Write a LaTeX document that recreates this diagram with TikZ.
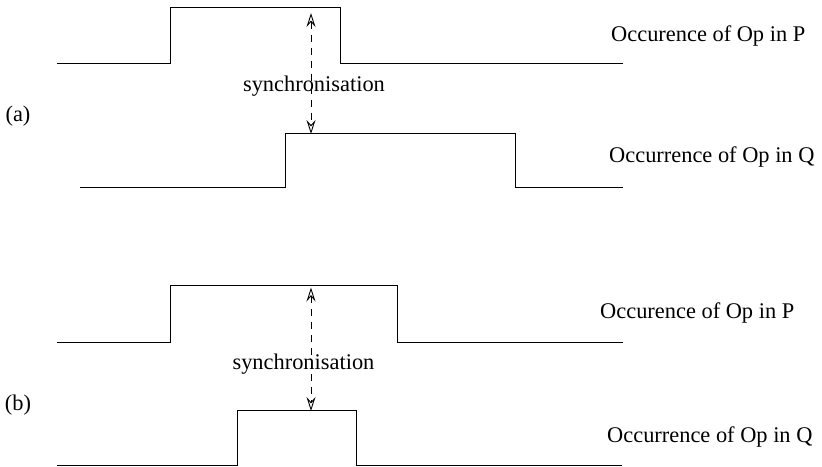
\documentclass[tikz,border=0pt]{standalone}
\usepackage{fontspec}
\setmainfont{Liberation Serif}
\usetikzlibrary{arrows.meta}
\begin{document}
\begin{tikzpicture}[x=1pt,y=-1pt,
  wave/.style={line width=0.9pt, line join=miter},
  tipx/.tip={Stealth[open,length=14pt,width=9pt,inset=5pt,line width=0.9pt]},
  sync/.style={dash pattern=on 7pt off 6pt, line width=0.8pt, tipx-tipx},
  lbl/.style={font=\fontsize{22.4}{26}\selectfont, inner sep=0pt},
  tag/.style={font=\fontsize{22.4}{26}\selectfont, inner sep=0pt}]
\useasboundingbox (0,0) rectangle (822,466);
% (a) P
\coordinate (aP0) at (57,63);
\coordinate (aP1) at (170,63);
\coordinate (aP2) at (170,7);
\coordinate (aP3) at (340,7);
\coordinate (aP4) at (340,63);
\coordinate (aP5) at (623,63);
\draw[wave] (aP0) -- (aP1) -- (aP2) -- (aP3) -- (aP4) -- (aP5);
% (a) Q
\coordinate (aQ0) at (80,187);
\coordinate (aQ1) at (285,187);
\coordinate (aQ2) at (285,133);
\coordinate (aQ3) at (515,133);
\coordinate (aQ4) at (515,187);
\coordinate (aQ5) at (623,187);
\draw[wave] (aQ0) -- (aQ1) -- (aQ2) -- (aQ3) -- (aQ4) -- (aQ5);
% (a) sync arrow
\coordinate (aS1) at (311,13);
\coordinate (aS2) at (311,134);
\draw[sync] (aS1) -- (aS2);
\node[lbl] (asyn) at (314,86) {synchronisation};
\node[tag] (atag) at (18,116) {(a)};
\node[lbl, anchor=west] (aPl) at (611,36) {Occurence of Op in P};
\node[lbl, anchor=west] (aQl) at (609,157) {Occurrence of Op in Q};
% (b) P
\coordinate (bP0) at (57,342);
\coordinate (bP1) at (170,342);
\coordinate (bP2) at (170,285);
\coordinate (bP3) at (397,285);
\coordinate (bP4) at (397,342);
\coordinate (bP5) at (623,342);
\draw[wave] (bP0) -- (bP1) -- (bP2) -- (bP3) -- (bP4) -- (bP5);
% (b) Q
\coordinate (bQ0) at (57,465.6);
\coordinate (bQ1) at (237,465.6);
\coordinate (bQ2) at (237,410);
\coordinate (bQ3) at (356,410);
\coordinate (bQ4) at (356,465.6);
\coordinate (bQ5) at (622,465.6);
\draw[wave] (bQ0) -- (bQ1) -- (bQ2) -- (bQ3) -- (bQ4) -- (bQ5);
% (b) sync arrow
\coordinate (bS1) at (311,287.5);
\coordinate (bS2) at (311,411);
\draw[sync] (bS1) -- (bS2);
\node[lbl] (bsyn) at (303.5,364) {synchronisation};
\node[tag] (btag) at (18,405) {(b)};
\node[lbl, anchor=west] (bPl) at (600,313) {Occurence of Op in P};
\node[lbl, anchor=west] (bQl) at (607,437) {Occurrence of Op in Q};
\end{tikzpicture}
\end{document}
